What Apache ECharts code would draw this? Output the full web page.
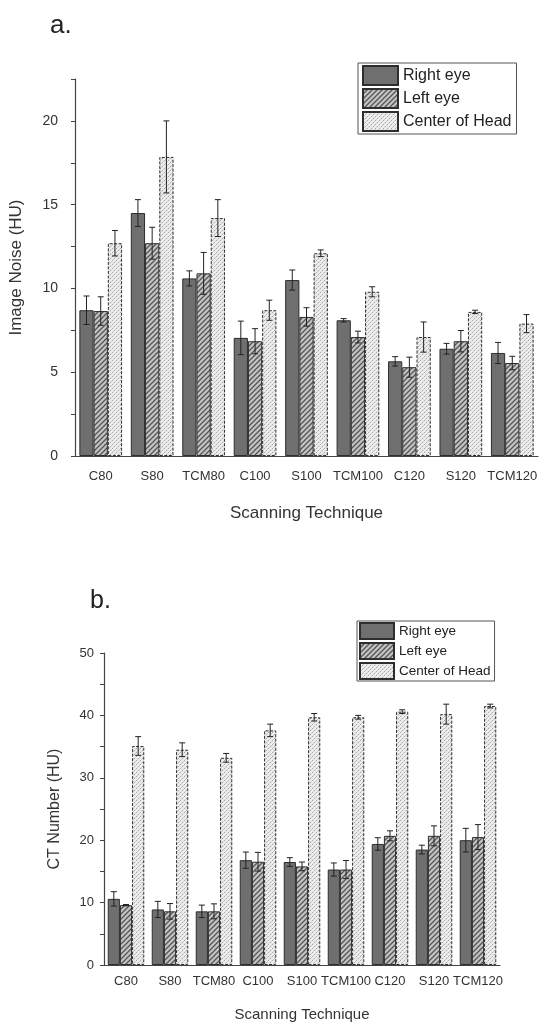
<!DOCTYPE html>
<html>
<head>
<meta charset="utf-8">
<script src="https://cdn.jsdelivr.net/npm/echarts@6/dist/echarts.min.js"></script>
<style>
  html, body { margin: 0; padding: 0; background: #fff; }
  #chart { width: 542px; height: 1023px; }
</style>
</head>
<body>
<div id="chart"></div>
<script>
// 扫描技术类别
const categories = ['C80', 'S80', 'TCM80', 'C100', 'S100', 'TCM100', 'C120', 'S120', 'TCM120'];
const seriesNames = ['Right eye', 'Left eye', 'Center of Head'];

// a. Image Noise (HU)
const noiseRight = [8.7, 14.5, 10.6, 7.05, 10.5, 8.1, 5.65, 6.4, 6.15];
const noiseRightErr = [0.85, 0.8, 0.45, 1.0, 0.6, 0.1, 0.28, 0.32, 0.63];
const noiseLeft = [8.65, 12.7, 10.9, 6.85, 8.3, 7.1, 5.3, 6.85, 5.55];
const noiseLeftErr = [0.85, 0.95, 1.25, 0.75, 0.55, 0.35, 0.6, 0.64, 0.4];
const noiseHead = [12.7, 17.85, 14.2, 8.7, 12.1, 9.8, 7.1, 8.6, 7.9];
const noiseHeadErr = [0.76, 2.15, 1.1, 0.6, 0.2, 0.3, 0.9, 0.1, 0.54];
const noiseTicks = [0, 5, 10, 15, 20];

// b. CT Number (HU)
const ctRight = [10.6, 8.9, 8.6, 16.8, 16.5, 15.3, 19.4, 18.5, 20.0];
const ctRightErr = [1.15, 1.3, 1.0, 1.3, 0.7, 1.05, 1.0, 0.7, 1.9];
const ctLeft = [9.6, 8.6, 8.6, 16.55, 15.8, 15.3, 20.7, 20.7, 20.5];
const ctLeftErr = [0.1, 1.25, 1.2, 1.5, 0.7, 1.45, 0.8, 1.6, 2.0];
const ctHead = [35.1, 34.5, 33.2, 37.6, 39.7, 39.7, 40.6, 40.2, 41.5];
const ctHeadErr = [1.5, 1.1, 0.7, 1.0, 0.6, 0.3, 0.3, 1.6, 0.3];
const ctTicks = [0, 10, 20, 30, 40, 50];

const GAP = 0.17;
const FONT = '"Liberation Sans", Arial, sans-serif';
const TXT = '#333';

// 填充图案
function makePattern(kind) {
  const c = document.createElement('canvas');
  if (kind === 'stripe') {
    c.width = 5; c.height = 5;
    const g = c.getContext('2d');
    g.fillStyle = '#c4c4c4';
    g.fillRect(0, 0, 5, 5);
    g.strokeStyle = '#555';
    g.lineWidth = 1.3;
    g.beginPath();
    g.moveTo(-1, 6); g.lineTo(6, -1);
    g.moveTo(-1, 1); g.lineTo(1, -1);
    g.moveTo(4, 6); g.lineTo(6, 4);
    g.stroke();
  } else {
    c.width = 4; c.height = 4;
    const g = c.getContext('2d');
    g.fillStyle = '#ececec';
    g.fillRect(0, 0, 4, 4);
    g.fillStyle = '#a8a8a8';
    g.fillRect(0, 0, 1, 1);
    g.fillRect(2, 2, 1, 1);
    g.fillStyle = '#cfcfcf';
    g.fillRect(1, 3, 1, 1);
    g.fillRect(3, 1, 1, 1);
  }
  return { image: c, repeat: 'repeat' };
}
const stripe = makePattern('stripe');
const speckle = makePattern('speckle');

const barStyles = [
  { color: '#6f6f6f', borderColor: '#2e2e2e', borderWidth: 1 },
  { color: stripe, borderColor: '#2e2e2e', borderWidth: 1 },
  { color: speckle, borderColor: '#2e2e2e', borderWidth: 1, borderType: [3, 1.5] }
];

function errorRender(idx) {
  return function (params, api) {
    const x = api.value(0), v = api.value(1), e = api.value(2);
    const band = api.size([1, 0])[0];
    const bw = band * (1 - GAP) / 3;
    const cx = api.coord([x, v])[0] + (idx - 1) * bw;
    const hi = api.coord([x, v + e])[1];
    const lo = api.coord([x, v - e])[1];
    const cap = 3;
    const st = { stroke: '#222', lineWidth: 1 };
    return {
      type: 'group',
      children: [
        { type: 'line', shape: { x1: cx, y1: hi, x2: cx, y2: lo }, style: st },
        { type: 'line', shape: { x1: cx - cap, y1: hi, x2: cx + cap, y2: hi }, style: st },
        { type: 'line', shape: { x1: cx - cap, y1: lo, x2: cx + cap, y2: lo }, style: st }
      ]
    };
  };
}

function buildSeries(gi, vals, errs) {
  const out = [];
  vals.forEach((arr, k) => {
    out.push({
      name: seriesNames[k], type: 'bar', xAxisIndex: gi * 2, yAxisIndex: gi,
      data: arr, barGap: 0, barCategoryGap: (GAP * 100) + '%',
      itemStyle: barStyles[k]
    });
  });
  vals.forEach((arr, k) => {
    out.push({
      type: 'custom', xAxisIndex: gi * 2, yAxisIndex: gi, z: 5, silent: true,
      renderItem: errorRender(k),
      encode: { x: 0, y: 1 },
      data: arr.map((v, i) => [i, v, errs[k][i]])
    });
  });
  return out;
}

function xAxes(gi, fontSize, margin) {
  return [
    {
      type: 'category', gridIndex: gi, data: categories,
      axisLine: { lineStyle: { color: '#444', width: 1.2 } },
      axisTick: { alignWithLabel: true, length: 5, lineStyle: { color: '#444' } },
      axisLabel: { interval: 0, color: TXT, fontSize: fontSize, fontFamily: FONT, margin: margin }
    },
    {
      type: 'category', gridIndex: gi, data: categories, position: 'bottom',
      axisLine: { show: false },
      axisTick: { length: 3, lineStyle: { color: '#444' } },
      axisLabel: { show: false }
    }
  ];
}

function yAxis(gi, max, interval, ticks, name, fontSize, margin, nameGap, nameSize) {
  return {
    type: 'value', gridIndex: gi, min: 0, max: max, interval: interval,
    name: name, nameLocation: 'middle', nameGap: nameGap,
    nameTextStyle: { color: TXT, fontSize: nameSize, fontFamily: FONT },
    splitLine: { show: false },
    axisLine: { show: true, lineStyle: { color: '#444', width: 1.2 } },
    axisTick: { show: true, length: 4, lineStyle: { color: '#444' } },
    axisLabel: {
      color: TXT, fontSize: fontSize, fontFamily: FONT, margin: margin,
      customValues: ticks
    }
  };
}

const chart = echarts.init(document.getElementById('chart'));
const legendBase = {
  orient: 'vertical', data: seriesNames, selectedMode: false, icon: 'rect',
  borderColor: '#555', borderWidth: 1, backgroundColor: '#fff',
  itemGap: 2
};

chart.setOption({
  animation: false,
  backgroundColor: '#fff',
  title: [
    { text: 'a.', left: 45, top: 8, textStyle: { fontSize: 26, fontWeight: 'normal', color: '#222', fontFamily: FONT } },
    { text: 'b.', left: 85, top: 584, textStyle: { fontSize: 25, fontWeight: 'normal', color: '#222', fontFamily: FONT } }
  ],
  legend: [
    Object.assign({}, legendBase, {
      left: 358, top: 63, padding: [2, 5, 2, 4],
      itemWidth: 35, itemHeight: 19,
      textStyle: { fontSize: 16, color: '#222', fontFamily: FONT }
    }),
    Object.assign({}, legendBase, {
      left: 357, top: 621, padding: [1, 4, 1, 2],
      itemWidth: 34, itemHeight: 16,
      textStyle: { fontSize: 13.5, color: '#222', fontFamily: FONT }
    })
  ],
  grid: [
    { left: 70, top: 79, width: 468, height: 377 },
    { left: 104, top: 653, width: 396, height: 321 }
  ],
  xAxis: [].concat(xAxes(0, 13, 14), xAxes(1, 13, 10)).map((a, i) => {
    if (i === 0) Object.assign(a, { name: 'Scanning Technique', nameLocation: 'middle', nameGap: 49,
      nameTextStyle: { color: TXT, fontSize: 17, fontFamily: FONT } });
    if (i === 2) Object.assign(a, { name: 'Scanning Technique', nameLocation: 'middle', nameGap: 42,
      nameTextStyle: { color: TXT, fontSize: 15, fontFamily: FONT } });
    return a;
  }),
  yAxis: [
    yAxis(0, 22.5, 2.5, noiseTicks, 'Image Noise (HU)', 14, 17, 50, 17),
    yAxis(1, 50, 5, ctTicks, 'CT Number (HU)', 13, 10, 41, 16)
  ],
  series: [].concat(
    buildSeries(0, [noiseRight, noiseLeft, noiseHead], [noiseRightErr, noiseLeftErr, noiseHeadErr]),
    buildSeries(1, [ctRight, ctLeft, ctHead], [ctRightErr, ctLeftErr, ctHeadErr])
  )
});
</script>
</body>
</html>
